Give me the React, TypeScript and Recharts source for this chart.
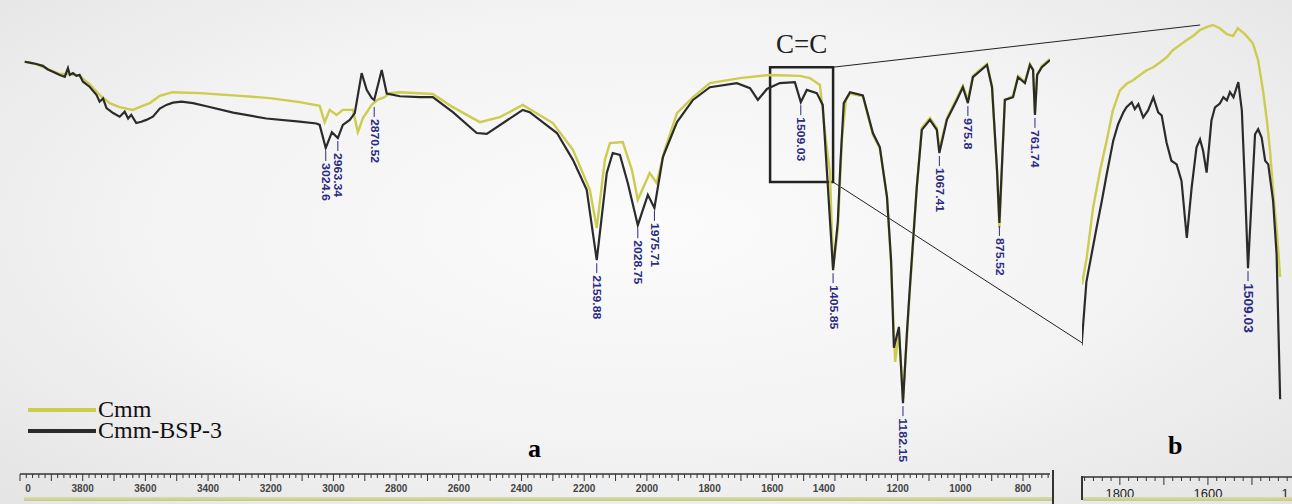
import React from "react";
import {
  ComposedChart,
  Line,
  Scatter,
  XAxis,
  YAxis,
  ReferenceArea,
  ReferenceLine,
  Legend,
} from "recharts";

// Panel a: full spectra, wavenumber (cm-1) vs transmittance (%)
const cmmWn = [
  3985, 3948, 3911, 3873, 3841, 3810, 3778, 3746, 3714, 3682, 3640, 3609, 3586, 3554, 3513, 3427, 3320, 3203,
  3108, 3044, 3028, 3012, 2990, 2970, 2938, 2922, 2906, 2878, 2859, 2837, 2821, 2788, 2683, 2619, 2533, 2469,
  2396, 2300, 2236, 2182, 2160, 2134, 2118, 2077, 2048, 2029, 1991, 1969, 1943, 1904, 1853, 1799, 1703, 1608,
  1512, 1480, 1448, 1429, 1416, 1406, 1391, 1378, 1365, 1352, 1311, 1279, 1257, 1234, 1221, 1208, 1196, 1183,
  1170, 1161, 1139, 1123, 1097, 1075, 1067, 1043, 1011, 992, 976, 960, 915, 899, 883, 875.5, 858, 832, 816,
  794, 778, 768, 762, 755, 740, 714,
];
const cmmT = [
  90.8, 90.3, 89.2, 88.1, 88.1, 87.7, 85.9, 83.5, 81.7, 80.8, 80.2, 81.1, 81.7, 83.3, 84.1, 83.9, 83.4, 82.8,
  81.9, 81.1, 77.5, 80.2, 79.1, 80.2, 80.2, 75.3, 78.4, 81.3, 82.4, 83.0, 83.9, 84.1, 83.7, 80.8, 77.5, 78.6,
  81.3, 77.3, 71.4, 62.6, 54.2, 69.2, 72.9, 73.1, 67.0, 60.4, 66.3, 64.1, 71.4, 79.5, 83.0, 86.1, 87.2, 87.9,
  87.7, 87.2, 85.7, 73.6, 66.3, 45.4, 53.7, 73.6, 82.4, 83.8, 83.2, 74.7, 71.8, 61.0, 46.0, 24.7, 31.3, 16.7,
  30.6, 40.5, 63.2, 76.2, 78.4, 76.2, 71.4, 78.4, 82.8, 85.5, 82.4, 87.7, 90.3, 85.5, 66.5, 54.2, 82.4, 83.3, 87.7,
  86.3, 90.3, 89.0, 79.5, 87.9, 89.9, 91.4,
];

const bspWn = [
  3985, 3969, 3948, 3927, 3911, 3895, 3873, 3857, 3847, 3841, 3831, 3820, 3810, 3799, 3778, 3756, 3746, 3735,
  3724, 3703, 3682, 3666, 3655, 3645, 3629, 3613, 3597, 3576, 3554, 3533, 3512, 3485, 3448, 3405, 3320, 3214,
  3108, 3054, 3044, 3024.6, 3005, 2986, 2970, 2948, 2932, 2910, 2894, 2878, 2870, 2846, 2830, 2788, 2725, 2683,
  2619, 2543, 2511, 2396, 2374, 2287, 2236, 2192, 2160, 2128, 2109, 2086, 2061, 2029, 1997, 1976, 1949, 1904,
  1853, 1799, 1713, 1671, 1646, 1617, 1576, 1528, 1509, 1490, 1458, 1439, 1426, 1406, 1391, 1382, 1372, 1352,
  1311, 1279, 1257, 1234, 1221, 1212, 1196, 1183, 1170, 1161, 1139, 1123, 1097, 1075, 1067, 1043, 1011, 992,
  976, 960, 915, 899, 883, 875.5, 858, 832, 816, 794, 778, 768, 762, 755, 740, 714,
];
const bspT = [
  90.8, 90.6, 90.3, 89.9, 89.1, 88.6, 87.9, 87.5, 89.4, 87.9, 88.3, 87.7, 87.9, 86.4, 85.3, 83.5, 82.0, 82.7,
  80.6, 79.5, 78.7, 79.8, 78.3, 79.1, 77.3, 77.6, 78.0, 78.7, 80.5, 81.3, 81.8, 82.0, 81.7, 81.0, 79.6, 78.3,
  77.6, 77.2, 76.9, 71.8, 75.3, 74.0, 76.9, 78.0, 79.5, 88.3, 84.6, 82.8, 82.4, 89.0, 83.8, 83.2, 83.0, 83.0,
  79.7, 75.1, 74.9, 80.2, 79.7, 75.1, 69.2, 62.6, 47.1, 66.3, 70.7, 70.3, 64.1, 54.8, 61.5, 58.6, 69.8, 77.5,
  82.4, 85.2, 86.1, 85.0, 82.4, 84.8, 86.1, 86.3, 81.9, 84.6, 83.9, 81.3, 67.0, 44.9, 55.5, 69.2, 81.7, 84.1,
  83.4, 75.1, 72.0, 61.0, 47.1, 27.8, 32.4, 15.6, 31.7, 41.2, 63.2, 75.8, 78.0, 75.8, 70.7, 78.0, 82.4, 85.2,
  81.7, 87.4, 90.1, 85.2, 67.0, 55.3, 82.4, 83.0, 87.4, 86.1, 90.1, 89.0, 79.1, 87.9, 89.6, 91.2,
];

// Peak annotations of Cmm-BSP-3 (panel a)
const peakWn = [3024.6, 2986, 2870, 2160, 2029, 1976, 1509, 1406, 1183, 1067, 976, 875.5, 762];
const peakT = [71.8, 74.0, 81.5, 47.1, 54.8, 58.6, 81.9, 44.9, 15.6, 70.7, 81.7, 55.3, 79.1];
const peakLabels = [
  "3024.6", "2963.34", "2870.52", "2159.88", "2028.75", "1975.71", "1509.03",
  "1405.85", "1182.15", "1067.41", "975.8", "875.52", "761.74",
];

// Panel b: zoom on the C=C region
const cmmZoomWn = [
  1886, 1875, 1861, 1845, 1830, 1816, 1800, 1784, 1770, 1755, 1739, 1725, 1709, 1693, 1680, 1664, 1648, 1634,
  1618, 1602, 1589, 1573, 1557, 1543, 1532, 1516, 1498, 1486, 1475, 1466, 1459, 1450, 1443, 1436,
];
const cmmZoomT = [
  42.1, 48.2, 58.8, 67.0, 73.6, 80.2, 84.6, 86.1, 86.8, 87.9, 89.0, 89.6, 90.7, 91.9, 93.4, 94.5, 95.6, 96.5,
  97.8, 98.5, 98.9, 98.2, 96.9, 96.5, 98.2, 96.9, 94.9, 91.2, 84.6, 78.0, 71.4, 60.4, 53.1, 43.8,
];
const bspZoomWn = [
  1887, 1876, 1853, 1841, 1830, 1815, 1804, 1792, 1785, 1773, 1766, 1758, 1747, 1736, 1724, 1713, 1705, 1694,
  1683, 1671, 1660, 1648, 1637, 1626, 1618, 1611, 1603, 1592, 1584, 1573, 1565, 1557, 1550, 1542, 1531, 1523,
  1516, 1509, 1501, 1493, 1486, 1478, 1470, 1463, 1452, 1444, 1436,
];
const bspZoomT = [
  28.8, 42.7, 54.5, 60.4, 66.2, 73.6, 77.2, 79.8, 80.9, 82.0, 80.5, 81.6, 78.7, 80.2, 83.1, 79.8, 79.1, 73.2,
  69.2, 68.4, 64.8, 52.3, 63.3, 72.1, 73.9, 71.4, 66.6, 78.0, 80.9, 81.7, 83.1, 82.4, 84.2, 83.1, 86.4, 80.2,
  64.0, 45.7, 60.4, 75.0, 76.1, 74.3, 69.2, 68.4, 60.4, 48.6, 17.0,
];
const zoomPeakWn = [1509];
const zoomPeakT = [45.7];
const zoomPeakLabels = ["1509.03"];

// axis labels (the outermost ones are cut by the figure edge in the original)
const majorTicksA = [4000, 3800, 3600, 3400, 3200, 3000, 2800, 2600, 2400, 2200, 2000, 1800, 1600, 1400, 1200, 1000, 800];
const tickLabelsA = ["0", "3800", "3600", "3400", "3200", "3000", "2800", "2600", "2400", "2200", "2000", "1800", "1600", "1400", "1200", "1000", "800"];
const majorTicksB = [1800, 1600, 1400];
const tickLabelsB = ["1800", "1600", "1"];

const zip = (wn: number[], t: number[]) => wn.map((w, i) => ({ wn: w, t: t[i] }));
const cmmData = zip(cmmWn, cmmT);
const bspData = zip(bspWn, bspT);
const cmmZoom = zip(cmmZoomWn, cmmZoomT);
const bspZoom = zip(bspZoomWn, bspZoomT);
const peaksA = peakWn.map((w, i) => ({ wn: w, t: peakT[i], label: peakLabels[i] }));
const peaksB = zoomPeakWn.map((w, i) => ({ wn: w, t: zoomPeakT[i], label: zoomPeakLabels[i] }));

const rulerTicks = (from: number, to: number) => {
  const out: number[] = [];
  for (let v = from; v >= to; v -= 20) out.push(v);
  return out;
};

const YELLOW = "#cccc4e";
const BLACK = "#2b2b2b";
const NAVY = "#2a2a82";

const makeTick = (ticks: number[], labels: string[], big: boolean) => (props: any) => {
  const { x, y, payload } = props;
  const v = payload.value;
  const idx = ticks.indexOf(v);
  const len = v % 100 === 0 ? (big ? 8 : 7) : 4;
  let dx = 0;
  if (v === 4000) dx = 8;
  if (v === 1400) dx = -11;
  return (
    <g>
      <line x1={x} y1={y} x2={x} y2={y + len} stroke="#333" strokeWidth={1} />
      {idx >= 0 && (
        <text
          x={x + dx}
          y={y + (big ? 16 : 14)}
          textAnchor="middle"
          dominantBaseline="central"
          fontFamily="'Liberation Sans', Arial, sans-serif"
          fontSize={big ? 13 : 10}
          fontWeight={big ? "normal" : "bold"}
          fill={big ? "#222" : "#444"}
        >
          {labels[idx]}
        </text>
      )}
    </g>
  );
};

const makePeak = (fontSize: number, charLen: number) => (props: any) => {
  const { cx, cy, payload } = props;
  if (cx == null || cy == null) return <g />;
  const ty = cy + 15;
  return (
    <g>
      <line x1={cx} y1={cy + 3} x2={cx} y2={cy + 13} stroke={NAVY} strokeWidth={1} />
      <text
        x={cx}
        y={ty}
        transform={`rotate(90 ${cx} ${ty})`}
        dominantBaseline="central"
        fontFamily="'Liberation Sans', Arial, sans-serif"
        fontSize={fontSize}
        fontWeight="bold"
        fill={NAVY}
        textLength={payload.label.length * charLen}
        lengthAdjust="spacingAndGlyphs"
      >
        {payload.label}
      </text>
    </g>
  );
};

const serif = "'Liberation Serif', 'Times New Roman', serif";

const LegendContent = (props: any) => {
  const items = (props.payload || []).filter((it: any) => it.type !== "none");
  return (
    <div style={{ fontFamily: serif, fontSize: 24 }}>
      {items.map((it: any) => (
        <div key={it.value} style={{ display: "flex", alignItems: "center", height: 21 }}>
          <span style={{ display: "inline-block", width: 68, height: 4, background: it.color, marginRight: 2 }} />
          <span style={{ display: "inline-block", height: 21, lineHeight: "21px", overflow: "visible", color: "#111" }}>
            {it.value}
          </span>
        </div>
      ))}
    </div>
  );
};

export default function App() {
  return (
    <div
      style={{
        position: "relative",
        width: 1292,
        height: 504,
        overflow: "hidden",
        background: "radial-gradient(ellipse at 50% 45%, #fbfbfb 0%, #f3f3f3 55%, #e4e4e4 100%)",
      }}
    >
      <style>{"body{margin:0}"}</style>

      {/* panel a */}
      <div style={{ position: "absolute", left: 0, top: 0 }}>
        <ComposedChart width={1292} height={504} margin={{ top: 20, right: 242, bottom: 0, left: 20 }}>
          <XAxis
            dataKey="wn"
            type="number"
            domain={[714, 4000]}
            reversed
            allowDataOverflow
            height={30}
            ticks={rulerTicks(4000, 720)}
            interval={0}
            tickSize={0}
            tickMargin={0}
            tickLine={false}
            axisLine={{ stroke: "#333", strokeWidth: 1.5 }}
            tick={makeTick(majorTicksA, tickLabelsA, false)}
          />
          <YAxis dataKey="t" type="number" domain={[0, 100]} hide allowDataOverflow />
          <ReferenceArea
            x1={1607}
            x2={1406}
            y1={64.3}
            y2={89.6}
            fill="none"
            stroke="#222"
            strokeWidth={2.5}
            fillOpacity={0}
            ifOverflow="visible"
            label={{ value: "C=C", position: "top", offset: 14, fontFamily: serif, fontSize: 27, fill: "#222" }}
          />
          <ReferenceLine segment={[{ x: 1406, y: 89.6 }, { x: 235, y: 98.9 }]} stroke="#222" strokeWidth={1} ifOverflow="visible" />
          <ReferenceLine segment={[{ x: 1406, y: 64.3 }, { x: 612, y: 28.9 }]} stroke="#222" strokeWidth={1} ifOverflow="visible" />
          <Line data={cmmData} dataKey="t" name="Cmm" type="linear" stroke={YELLOW} strokeWidth={2.4} dot={false} isAnimationActive={false} />
          <Line data={bspData} dataKey="t" name="Cmm-BSP-3" type="linear" stroke={BLACK} strokeWidth={2.2} dot={false} isAnimationActive={false} />
          <Scatter data={peaksA} dataKey="t" legendType="none" shape={makePeak(10, 6.3)} isAnimationActive={false} />
          <Legend
            layout="vertical"
            align="center"
            verticalAlign="middle"
            content={<LegendContent />}
            wrapperStyle={{ left: 28, top: 399, width: 260 }}
          />
        </ComposedChart>
      </div>

      {/* panel b */}
      <div style={{ position: "absolute", left: 1072, top: 0 }}>
        <ComposedChart width={224} height={504} margin={{ top: 20, right: 0, bottom: 0, left: 10 }}>
          <XAxis
            dataKey="wn"
            type="number"
            domain={[1400, 1886]}
            reversed
            allowDataOverflow
            height={27}
            ticks={rulerTicks(1880, 1400)}
            interval={0}
            tickSize={0}
            tickMargin={0}
            tickLine={false}
            axisLine={{ stroke: "#333", strokeWidth: 1.5 }}
            tick={makeTick(majorTicksB, tickLabelsB, true)}
          />
          <YAxis dataKey="t" type="number" domain={[0, 100]} hide allowDataOverflow />
          <Line data={cmmZoom} dataKey="t" name="Cmm" type="linear" stroke={YELLOW} strokeWidth={2.4} dot={false} isAnimationActive={false} />
          <Line data={bspZoom} dataKey="t" name="Cmm-BSP-3" type="linear" stroke={BLACK} strokeWidth={2.2} dot={false} isAnimationActive={false} />
          <Scatter data={peaksB} dataKey="t" legendType="none" shape={makePeak(13, 7.1)} isAnimationActive={false} />
        </ComposedChart>
      </div>

      {/* panel letters and frame bits */}
      <div style={{ position: "absolute", left: 528, top: 434, fontFamily: serif, fontWeight: "bold", fontSize: 26 }}>a</div>
      <div style={{ position: "absolute", left: 1168, top: 431, fontFamily: serif, fontWeight: "bold", fontSize: 26 }}>b</div>
      <div style={{ position: "absolute", left: 1052, top: 470, width: 2, height: 34, background: "#333" }} />
      <div style={{ position: "absolute", left: 1081, top: 476, width: 1.5, height: 24, background: "#333" }} />
      <div style={{ position: "absolute", left: 24, top: 497, width: 1028, height: 4, background: "linear-gradient(#dcdba8, #c9c78f)" }} />
      <div style={{ position: "absolute", left: 1083, top: 497, width: 209, height: 4, background: "linear-gradient(#dcdba8, #c9c78f)" }} />
    </div>
  );
}
